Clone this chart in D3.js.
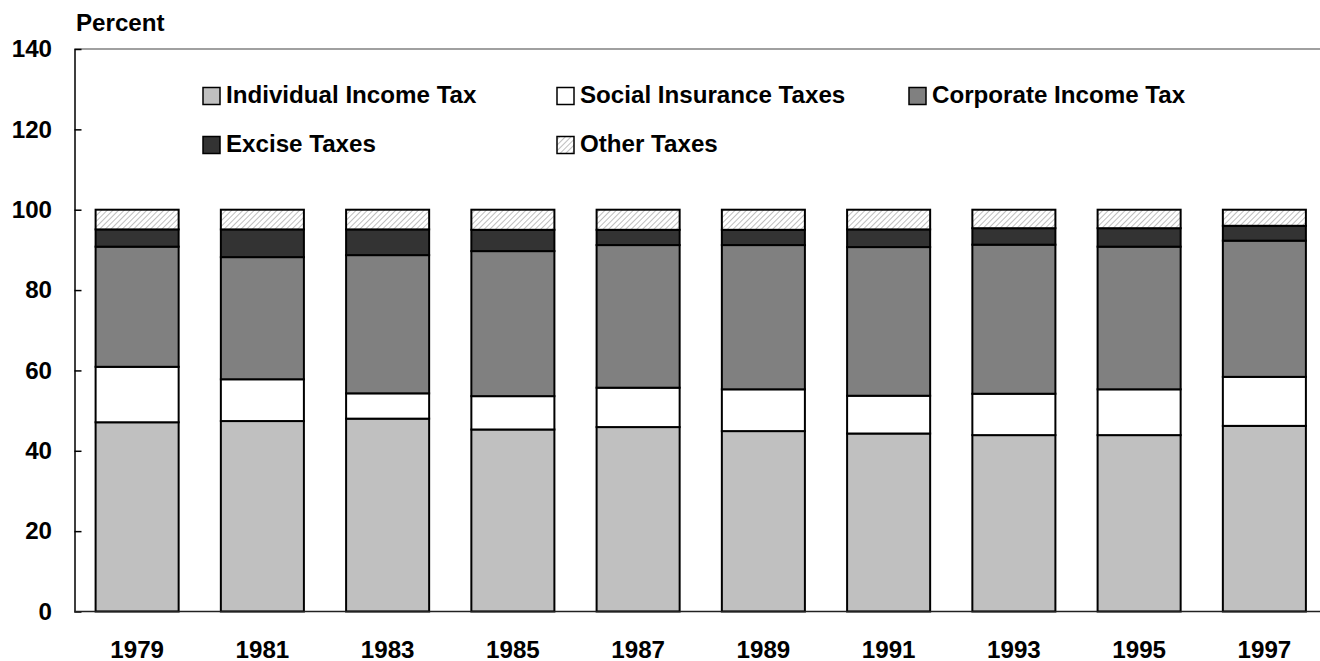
<!DOCTYPE html>
<html>
<head>
<meta charset="utf-8">
<script src="https://cdn.jsdelivr.net/npm/d3@7"></script>
<style>
  html, body { margin: 0; padding: 0; background: #fff; }
  svg text { font-family: "Liberation Sans", Arial, sans-serif; font-weight: bold; fill: #000; }
</style>
</head>
<body>
<svg id="chart" width="1320" height="661"></svg>
<script>
const years = ["1979","1981","1983","1985","1987","1989","1991","1993","1995","1997"];
const individualIncomeTax = [47.1, 47.4, 48.0, 45.3, 45.9, 44.9, 44.3, 43.9, 43.9, 46.2];
const socialInsuranceTaxes = [13.8, 10.4, 6.3, 8.3, 9.8, 10.4, 9.4, 10.3, 11.4, 12.2];
const corporateIncomeTax = [29.9, 30.4, 34.4, 36.1, 35.5, 35.9, 37.0, 37.1, 35.5, 33.9];
const exciseTaxes = [4.3, 6.9, 6.4, 5.3, 3.8, 3.8, 4.4, 4.1, 4.6, 3.7];
const otherTaxes = [4.9, 4.9, 4.9, 5.0, 5.0, 5.0, 4.9, 4.6, 4.6, 4.0];
const yTicks = [0, 20, 40, 60, 80, 100, 120, 140];
const seriesNames = ["Individual Income Tax", "Social Insurance Taxes", "Corporate Income Tax", "Excise Taxes", "Other Taxes"];

(function () {
const seriesValues = [individualIncomeTax, socialInsuranceTaxes, corporateIncomeTax, exciseTaxes, otherTaxes];
const fills = ["#c0c0c0", "#ffffff", "#808080", "#333333", "url(#hatch)"];
const keys = ["ind", "soc", "corp", "exc", "oth"];

const rows = years.map((yr, i) => {
  const o = { year: yr };
  keys.forEach((k, j) => o[k] = seriesValues[j][i]);
  return o;
});
const stacked = d3.stack().keys(keys)(rows);

const svg = d3.select("#chart");
const SX = 1.05;
const FS = "23px";

const defs = svg.append("defs");
const pat = defs.append("pattern").attr("id", "hatch").attr("patternUnits", "userSpaceOnUse")
  .attr("width", 4).attr("height", 4).attr("patternTransform", "rotate(45)");
pat.append("rect").attr("width", 4).attr("height", 4).attr("fill", "#fff");
pat.append("line").attr("x1", 0).attr("y1", 0).attr("x2", 0).attr("y2", 4)
  .attr("stroke", "#a8a8a8").attr("stroke-width", 1.5);

const pLeft = 74.5, pTop = 49, pBottom = 611.5, pRight = 1327;
const x = d3.scaleBand().domain(years).range([pLeft, pRight]).paddingInner(0.337).paddingOuter(0.1685);
const y = d3.scaleLinear().domain([0, 140]).range([pBottom, pTop]);

// plot border top
svg.append("line").attr("x1", pLeft).attr("x2", 1320).attr("y1", pTop).attr("y2", pTop)
  .attr("stroke", "#808080").attr("stroke-width", 1.5);

// bars
svg.append("g").selectAll("g").data(stacked).join("g")
  .attr("fill", (d, i) => fills[i])
  .selectAll("rect").data(d => d).join("rect")
  .attr("x", d => x(d.data.year))
  .attr("width", x.bandwidth())
  .attr("y", d => y(d[1]))
  .attr("height", d => y(d[0]) - y(d[1]))
  .attr("stroke", "#000").attr("stroke-width", 2);

// y axis
const yAxis = svg.append("g").attr("transform", `translate(${pLeft},0)`)
  .call(d3.axisLeft(y).tickValues(yTicks).tickSize(-7).tickFormat(""));
yAxis.select(".domain").attr("stroke", "#000").attr("stroke-width", 1.5);
yAxis.selectAll(".tick line").attr("stroke", "#000").attr("stroke-width", 1.5);
yAxis.selectAll(".tick").filter(d => d === 0 || d === 140).select("line").remove();

const yl = svg.append("g");
yTicks.forEach(t => {
  yl.append("text").attr("transform", `translate(52,${y(t)}) scale(${SX},1)`)
    .attr("text-anchor", "end").attr("dy", "0.36em").style("font-size", FS).text(t);
});

// x axis
const xAxis = svg.append("g").attr("transform", `translate(0,${pBottom})`)
  .call(d3.axisBottom(x).tickSize(0).tickFormat(""));
xAxis.select(".domain").attr("stroke", "#222").attr("stroke-width", 1.5).attr("d", `M${pLeft},0H1320`);
years.forEach(yr => {
  svg.append("text").attr("transform", `translate(${x(yr) + x.bandwidth() / 2},657.5) scale(${SX},1)`)
    .attr("text-anchor", "middle").style("font-size", FS).text(yr);
});

// y title
svg.append("text").attr("transform", `translate(76,30.5) scale(${SX},1)`)
  .style("font-size", FS).text("Percent");

// legend
const legendPos = [[203, 96], [557, 96], [909, 96], [203, 145], [557, 145]];
seriesNames.forEach((name, i) => {
  const [lx, ly] = legendPos[i];
  svg.append("rect").attr("x", lx).attr("y", ly - 8.5).attr("width", 17).attr("height", 17)
    .attr("fill", fills[i]).attr("stroke", "#000").attr("stroke-width", 1.5);
  svg.append("text").attr("transform", `translate(${lx + 23},${ly - 1}) scale(${SX},1)`)
    .attr("dy", "0.36em").style("font-size", FS).text(name);
});
})();
</script>
</body>
</html>
